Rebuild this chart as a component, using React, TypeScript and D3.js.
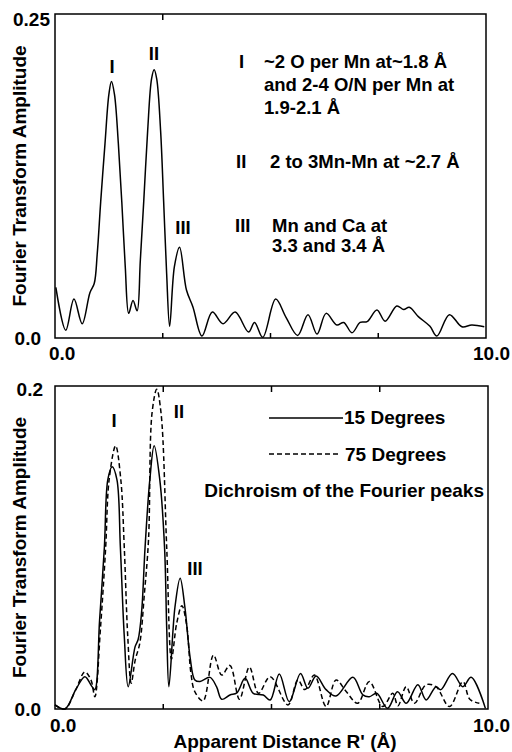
import React from "react";
import * as d3 from "d3";

// Top panel: single Fourier transform
const topR = [0.02,0.25,0.44,0.63,0.81,0.91,0.98,1.06,1.16,1.25,1.31,1.38,1.47,1.55,1.63,1.71,1.81,1.905,1.98,2.06,2.15,2.24,2.30,2.36,2.45,2.52,2.59,2.66,2.77,2.89,3.05,3.20,3.41,3.65,3.90,4.18,4.49,4.63,4.82,5.12,5.36,5.63,5.87,6.08,6.29,6.54,6.70,6.89,7.08,7.24,7.47,7.66,7.93,8.09,8.22,8.43,8.70,8.86,9.15,9.44,9.67,9.96];
const topA = [0.039,0.006,0.030,0.011,0.035,0.042,0.065,0.105,0.150,0.188,0.198,0.188,0.150,0.105,0.055,0.019,0.029,0.021,0.060,0.106,0.160,0.200,0.207,0.200,0.160,0.106,0.050,0.009,0.055,0.070,0.037,0.024,0.0015,0.020,0.011,0.020,0.0046,0.012,0.0005,0.030,0.016,0.002,0.018,0.003,0.019,0.010,0.012,0.004,0.012,0.0126,0.0216,0.013,0.0247,0.022,0.0237,0.0165,0.009,0.0015,0.018,0.0087,0.010,0.0087];

// Bottom panel: 15 degrees (solid)
const solidR = [0.00,0.23,0.48,0.69,0.85,0.92,1.03,1.14,1.22,1.32,1.43,1.51,1.60,1.69,1.85,1.92,2.00,2.08,2.19,2.29,2.42,2.53,2.58,2.63,2.77,2.89,3.00,3.12,3.23,3.35,3.58,3.73,3.85,4.04,4.20,4.39,4.58,4.81,4.97,5.18,5.41,5.67,5.84,6.03,6.26,6.49,6.88,7.11,7.26,7.43,7.68,7.91,8.11,8.38,8.57,8.80,8.91,9.18,9.42,9.61,9.94];
const solidA = [0.0025,0.000,0.012,0.020,0.014,0.012,0.055,0.100,0.142,0.150,0.142,0.100,0.045,0.0138,0.0386,0.043,0.060,0.100,0.142,0.163,0.142,0.100,0.050,0.0138,0.063,0.081,0.063,0.032,0.018,0.017,0.0196,0.0138,0.006,0.0087,0.010,0.019,0.0097,0.0087,0.0056,0.0217,0.0045,0.022,0.0128,0.0204,0.012,0.008,0.0196,0.0087,0.0076,0.0097,0.0004,0.0107,0.0035,0.015,0.0056,0.0138,0.012,0.022,0.0138,0.0196,0.0004];

// Bottom panel: 75 degrees (dashed)
const dashR = [0.00,0.23,0.48,0.69,0.83,0.92,1.05,1.17,1.25,1.40,1.52,1.60,1.68,1.76,1.85,1.96,2.06,2.16,2.24,2.35,2.45,2.58,2.69,2.81,2.93,3.04,3.14,3.23,3.42,3.66,3.85,4.04,4.26,4.49,4.70,4.97,5.38,5.61,5.77,5.99,6.26,6.49,6.72,6.99,7.26,7.57,7.80,7.92,8.11,8.30,8.57,8.80,9.11,9.42,9.58,9.80];
const dashA = [0.0025,0.000,0.012,0.023,0.018,0.0076,0.050,0.100,0.142,0.163,0.142,0.100,0.045,0.016,0.030,0.041,0.070,0.105,0.183,0.198,0.183,0.100,0.031,0.053,0.064,0.052,0.022,0.0107,0.005,0.0334,0.021,0.027,0.006,0.026,0.0097,0.020,0.0025,0.018,0.012,0.021,0.0015,0.018,0.011,0.0035,0.017,0.0015,0.0097,0.002,0.0138,0.0035,0.015,0.0138,0.0015,0.017,0.006,0.0035];

const xTickVals = [2.5, 5, 7.5];

const FONT = "'Liberation Sans', Arial, Helvetica, sans-serif";

function zip(r: number[], a: number[]) {
  return r.map((v, i) => [v, a[i]] as [number, number]);
}

export default function App() {
  // top panel scales
  const xT = d3.scaleLinear().domain([0, 10]).range([55, 486]);
  const yT = d3.scaleLinear().domain([0, 0.25]).range([338, 14]);
  // bottom panel scales
  const xB = d3.scaleLinear().domain([0, 10]).range([55, 488]);
  const yB = d3.scaleLinear().domain([0, 0.2]).range([709, 386]);

  const lineT = d3.line<[number, number]>().x(d => xT(d[0])).y(d => yT(d[1])).curve(d3.curveCatmullRom.alpha(0.5));
  const lineB = d3.line<[number, number]>().x(d => xB(d[0])).y(d => yB(d[1])).curve(d3.curveCatmullRom.alpha(0.5));

  const tStyle = { fontFamily: FONT, fontWeight: 700, fontSize: 19, fill: "#000" } as React.CSSProperties;
  const aStyle = { fontFamily: FONT, fontWeight: 700, fontSize: 18.5, fill: "#000" } as React.CSSProperties;
  const tickStyle = { fontFamily: FONT, fontWeight: 700, fontSize: 19, fill: "#000" } as React.CSSProperties;

  return (
    <svg width={512} height={752} style={{ position: "absolute", left: 0, top: 0, background: "#fff" }}>
      {/* ===== TOP PANEL ===== */}
      <rect x={xT(0)} y={yT(0.25)} width={xT(10) - xT(0)} height={yT(0) - yT(0.25)} fill="none" stroke="#000" strokeWidth={1.5} />
      {xTickVals.map(v => (
        <line key={"tb" + v} x1={xT(v)} x2={xT(v)} y1={yT(0)} y2={yT(0) - 5} stroke="#000" strokeWidth={1.5} />
      ))}
      <line x1={xT(2.5)} x2={xT(2.5)} y1={yT(0.25)} y2={yT(0.25) + 6} stroke="#000" strokeWidth={1.5} />
      <path d={lineT(zip(topR, topA)) || ""} fill="none" stroke="#000" strokeWidth={1.5} />
      <text x={50} y={26} textAnchor="end" style={tickStyle}>0.25</text>
      <text x={41} y={345} textAnchor="end" style={tickStyle}>0.0</text>
      <text x={49} y={360} style={tickStyle}>0.0</text>
      <text x={510} y={360} textAnchor="end" style={tickStyle}>10.0</text>
      <text transform={`translate(26,${(yT(0) + yT(0.25)) / 2}) rotate(-90)`} textAnchor="middle" style={tStyle}>Fourier Transform Amplitude</text>
      {/* peak labels */}
      <text x={112} y={73} textAnchor="middle" style={aStyle}>I</text>
      <text x={154} y={60} textAnchor="middle" style={aStyle}>II</text>
      <text x={183} y={234} textAnchor="middle" style={aStyle}>III</text>
      {/* annotations */}
      <text x={239} y={68} style={aStyle}>I</text>
      <text x={264} y={68} style={aStyle}>~2 O per Mn at~1.8 Å</text>
      <text x={264} y={91} style={aStyle}>and 2-4 O/N per Mn at</text>
      <text x={264} y={114} style={aStyle}>1.9-2.1 Å</text>
      <text x={236} y={168} style={aStyle}>II</text>
      <text x={270} y={168} style={aStyle}>2 to 3Mn-Mn at ~2.7 Å</text>
      <text x={235} y={232} style={aStyle}>III</text>
      <text x={272} y={232} style={aStyle}>Mn and Ca at</text>
      <text x={272} y={252} style={aStyle}>3.3 and 3.4 Å</text>

      {/* ===== BOTTOM PANEL ===== */}
      <rect x={xB(0)} y={yB(0.2)} width={xB(10) - xB(0)} height={yB(0) - yB(0.2)} fill="none" stroke="#000" strokeWidth={1.5} />
      {xTickVals.map(v => (
        <g key={"bb" + v}>
          <line x1={xB(v)} x2={xB(v)} y1={yB(0)} y2={yB(0) - 5} stroke="#000" strokeWidth={1.5} />
          <line x1={xB(v)} x2={xB(v)} y1={yB(0.2)} y2={yB(0.2) + 6} stroke="#000" strokeWidth={1.5} />
        </g>
      ))}
      <path d={lineB(zip(solidR, solidA)) || ""} fill="none" stroke="#000" strokeWidth={1.5} />
      <path d={lineB(zip(dashR, dashA)) || ""} fill="none" stroke="#000" strokeWidth={1.5} strokeDasharray="5,3" />
      <text x={43} y={396} textAnchor="end" style={tickStyle}>0.2</text>
      <text x={41} y={716} textAnchor="end" style={tickStyle}>0.0</text>
      <text x={50} y={732} style={tickStyle}>0.0</text>
      <text x={510} y={732} textAnchor="end" style={tickStyle}>10.0</text>
      <text transform={`translate(26,${(yB(0) + yB(0.2)) / 2}) rotate(-90)`} textAnchor="middle" style={tStyle}>Fourier Transform Amplitude</text>
      <text x={285} y={748} textAnchor="middle" style={tStyle}>Apparent Distance R' (Å)</text>
      {/* peak labels */}
      <text x={114} y={427} textAnchor="middle" style={aStyle}>I</text>
      <text x={179} y={418} textAnchor="middle" style={aStyle}>II</text>
      <text x={195} y={575} textAnchor="middle" style={aStyle}>III</text>
      {/* legend */}
      <line x1={269} x2={343} y1={418} y2={418} stroke="#000" strokeWidth={1.5} />
      <text x={344} y={424} style={tStyle}>15 Degrees</text>
      <line x1={269} x2={341} y1={454} y2={454} stroke="#000" strokeWidth={1.5} strokeDasharray="5,3" />
      <text x={345} y={461} style={tStyle}>75 Degrees</text>
      <text x={484} y={497} textAnchor="end" style={tStyle}>Dichroism of the Fourier peaks</text>
    </svg>
  );
}
